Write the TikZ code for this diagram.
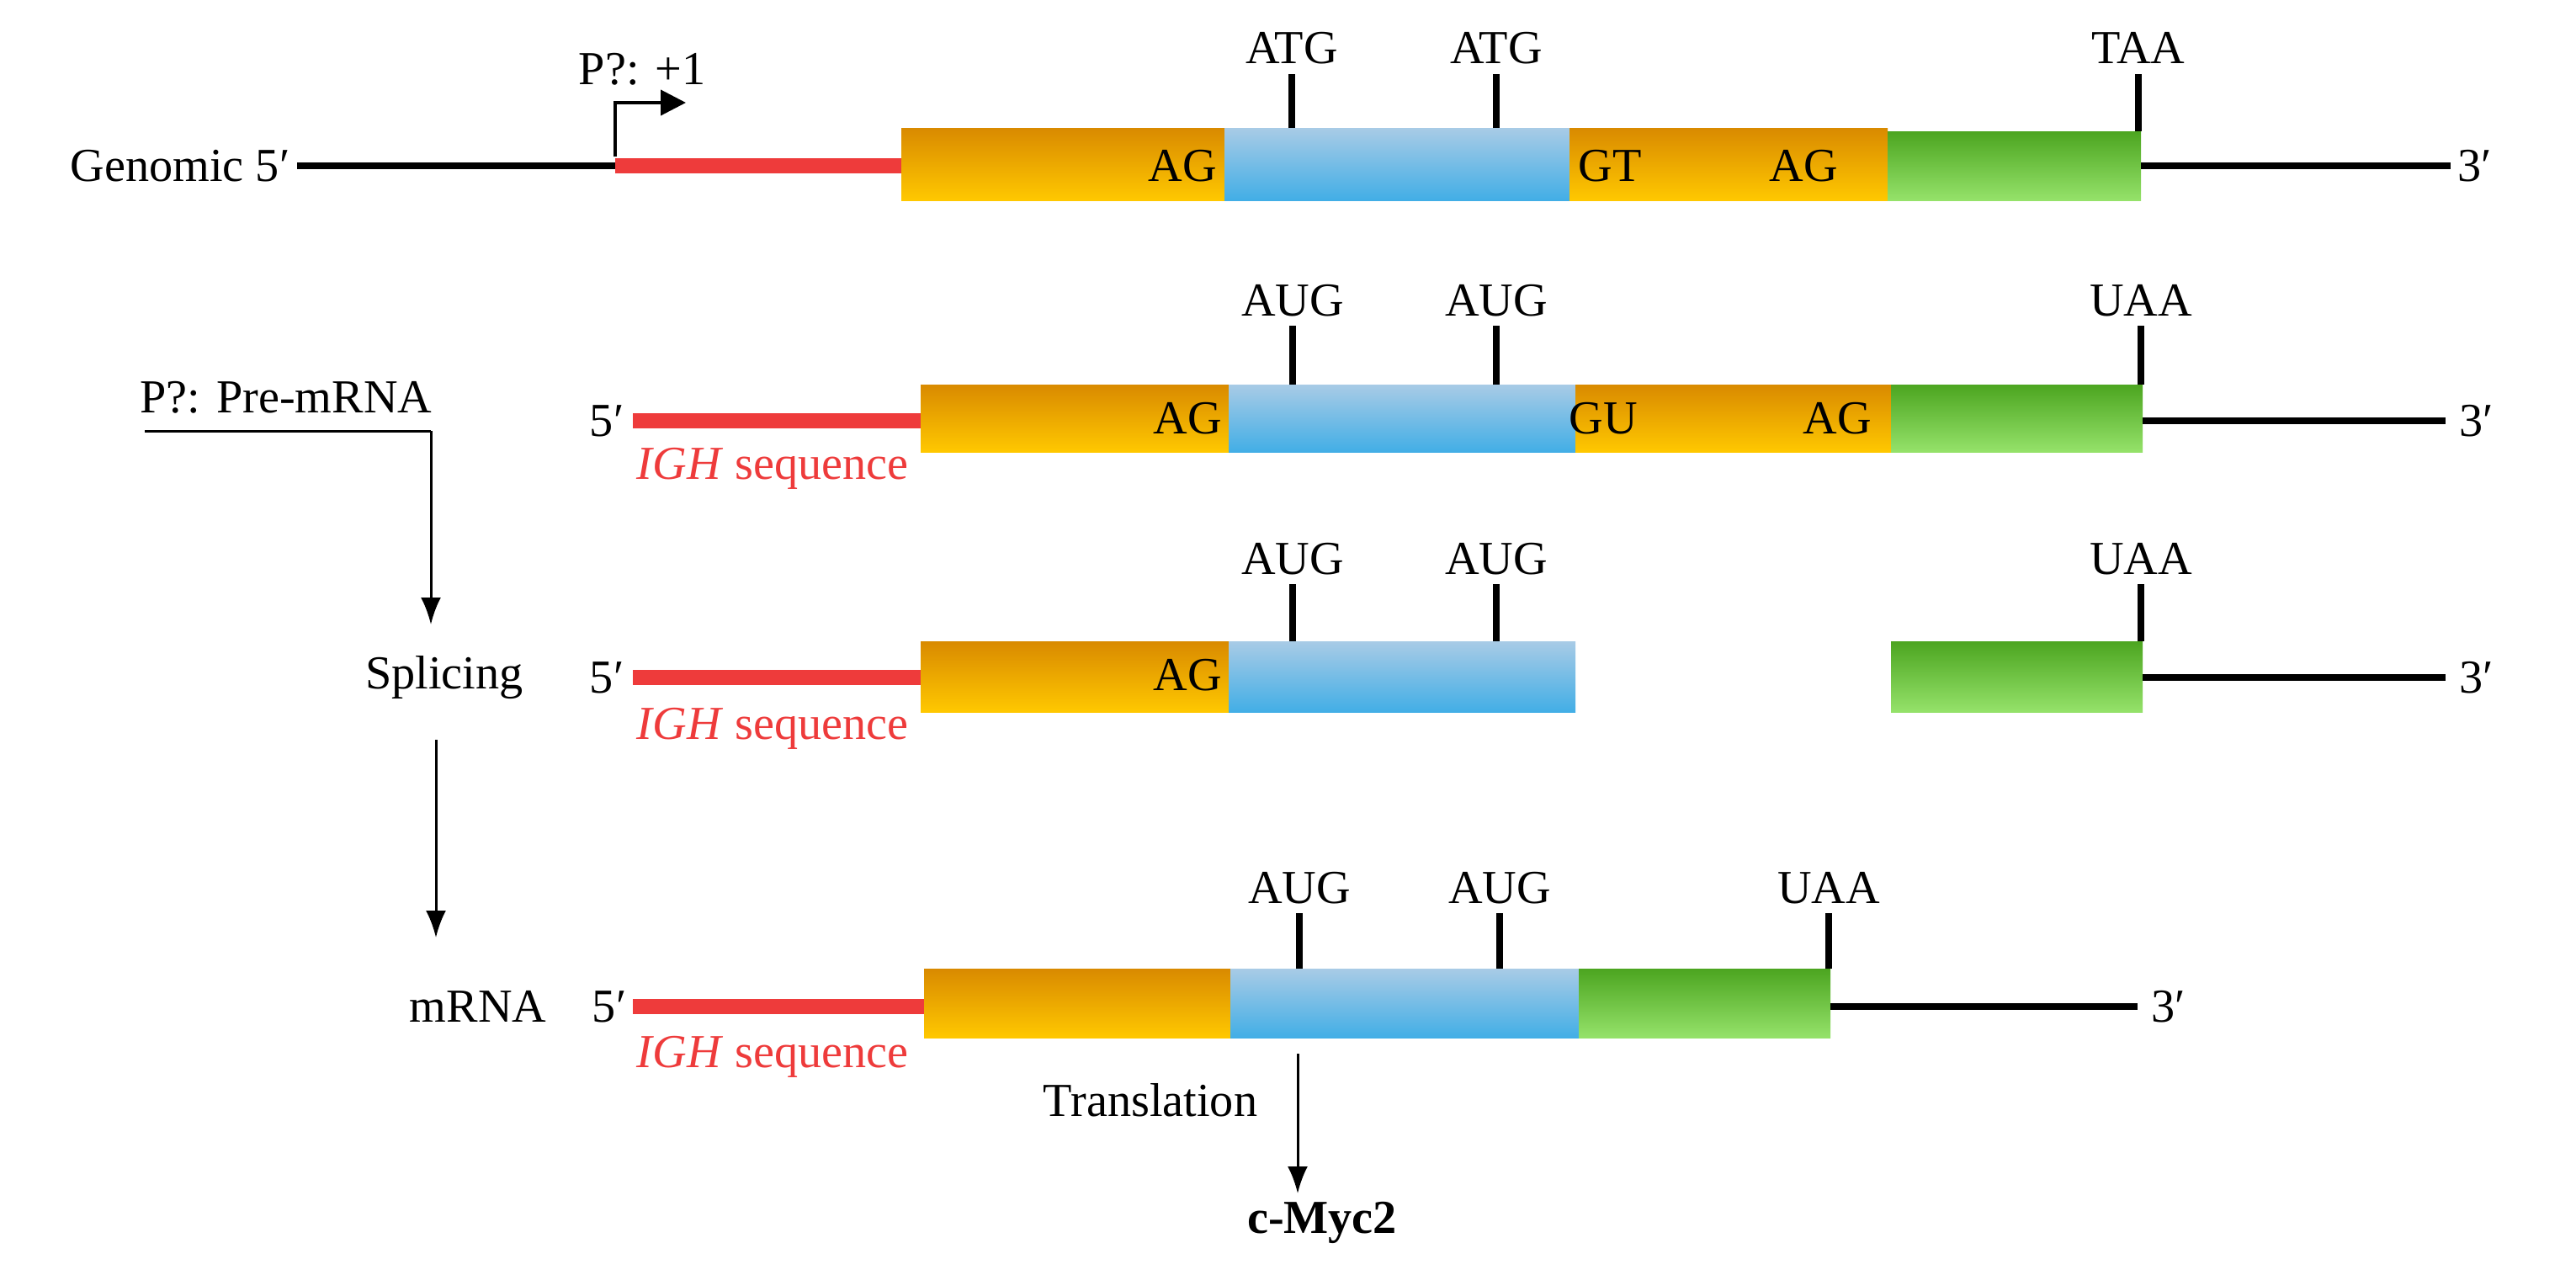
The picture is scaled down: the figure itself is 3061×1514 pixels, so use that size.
\documentclass[tikz,border=0pt]{standalone}
\usepackage{fontspec}
\setmainfont{Liberation Serif}
\usetikzlibrary{arrows.meta}
\definecolor{ored1}{HTML}{D98A00}\definecolor{ored2}{HTML}{FFC800}
\definecolor{blu1}{HTML}{A8CBE6}\definecolor{blu2}{HTML}{42AEE6}
\definecolor{grn1}{HTML}{4CA520}\definecolor{grn2}{HTML}{95E26A}
\definecolor{igh}{HTML}{EE3B3B}
\begin{document}
\begin{tikzpicture}[x=0.1mm,y=-0.1mm,
  txt/.style={font=\fontsize{16}{19}\selectfont,inner sep=0pt},
  orng/.style={top color=ored1,bottom color=ored2,draw=none},
  blue/.style={top color=blu1,bottom color=blu2,draw=none},
  grn/.style={top color=grn1,bottom color=grn2,draw=none},
  bl/.style={line width=0.85mm,black},
  rd/.style={line width=1.8mm,igh},
  tick/.style={line width=0.8mm,black},
  arr/.style={line width=0.3mm,-{Latex[length=3.2mm,width=2.4mm]}}]
\useasboundingbox (0,0) rectangle (3061,1514);
% ---------- Genomic ----------
\node[txt,anchor=east] (gen) at (345,197) {Genomic 5′};
\coordinate (g0) at (353,197);\coordinate (g1) at (731,197);
\draw[bl] (g0) -- (g1);
\draw[rd] (731,197) -- (1071,197);
\coordinate (pa) at (731,186);\coordinate (pb) at (731,122);\coordinate (pc) at (815,122);
\draw[line width=0.4mm,-{Triangle[length=3mm,width=3mm]}] (pa) -- (pb) -- (pc);
\node[txt] (p1) at (763,82) {P?: +1};
\fill[orng] (1071,152) rectangle (1455,238);
\fill[blue] (1455,152) rectangle (1865,238);
\fill[orng] (1865,152) rectangle (2243,238);
\fill[grn] (2243,156) rectangle (2544,238);
\draw[bl] (2544,197) -- (2912,197);
\node[txt,anchor=west] at (2920,197) {3′};
\node[txt] at (1405,197) {AG};
\node[txt] at (1913,197) {GT};
\node[txt] at (2143,197) {AG};
\draw[tick] (1535,152) -- (1535,88); \node[txt] at (1535,57) {ATG};
\draw[tick] (1778,152) -- (1778,88); \node[txt] at (1778,57) {ATG};
\draw[tick] (2541,156) -- (2541,88); \node[txt] at (2541,57) {TAA};
% ---------- Pre-mRNA ----------
\node[txt,anchor=east] at (742,500) {5′};
\draw[rd] (752,500) -- (1094,500);
\node[txt,igh] at (918,557) {\textit{IGH} sequence};
\fill[orng] (1094,457) rectangle (1460,537);
\fill[blue] (1460,457) rectangle (1872,537);
\fill[orng] (1872,457) rectangle (2247,537);
\fill[grn] (2247,457) rectangle (2546,537);
\draw[bl] (2546,500) -- (2906,500);
\node[txt,anchor=west] at (2922,500) {3′};
\node[txt] at (1411,497) {AG};
\node[txt] at (1905,497) {GU};
\node[txt] at (2183,497) {AG};
\draw[tick] (1536,457) -- (1536,387); \node[txt] at (1536,357) {AUG};
\draw[tick] (1778,457) -- (1778,387); \node[txt] at (1778,357) {AUG};
\draw[tick] (2544,457) -- (2544,387); \node[txt] at (2544,357) {UAA};
% ---------- Splicing ----------
\node[txt,anchor=east] at (742,805) {5′};
\draw[rd] (752,805) -- (1094,805);
\node[txt,igh] at (918,866) {\textit{IGH} sequence};
\fill[orng] (1094,762) rectangle (1460,846);
\fill[blue] (1460,762) rectangle (1872,846);
\fill[grn] (2247,762) rectangle (2546,846);
\draw[bl] (2546,805) -- (2906,805);
\node[txt,anchor=west] at (2922,805) {3′};
\node[txt] at (1411,802) {AG};
\draw[tick] (1536,762) -- (1536,694); \node[txt] at (1536,664) {AUG};
\draw[tick] (1778,762) -- (1778,694); \node[txt] at (1778,664) {AUG};
\draw[tick] (2544,762) -- (2544,694); \node[txt] at (2544,664) {UAA};
% ---------- mRNA ----------
\node[txt,anchor=east] at (745,1196) {5′};
\draw[rd] (752,1196) -- (1098,1196);
\node[txt,igh] at (918,1256) {\textit{IGH} sequence};
\fill[orng] (1098,1151) rectangle (1462,1233);
\fill[blue] (1462,1151) rectangle (1876,1233);
\fill[grn] (1876,1151) rectangle (2175,1233);
\draw[bl] (2175,1196) -- (2540,1196);
\node[txt,anchor=west] at (2556,1196) {3′};
\draw[tick] (1544,1151) -- (1544,1085); \node[txt] at (1544,1055) {AUG};
\draw[tick] (1782,1151) -- (1782,1085); \node[txt] at (1782,1055) {AUG};
\draw[tick] (2173,1151) -- (2173,1085); \node[txt] at (2173,1055) {UAA};
% ---------- left flow ----------
\node[txt] (pre) at (340,472) {P?: Pre-mRNA};
\node[txt] (spl) at (528,805) {Splicing};
\node[txt] (mrna) at (568,1196) {mRNA};
\coordinate (u0) at (172,512);\coordinate (u1) at (512,512);
\draw[line width=0.3mm] (u0) -- (u1);
\draw[arr] (u1) -- (512,742);
\draw[arr] (518,879) -- (518,1114);
\node[txt] (tr) at (1367,1307) {Translation};
\node[txt,font=\fontsize{16}{19}\selectfont\bfseries] (myc) at (1571,1453) {c-Myc2};
\coordinate (t0) at (1542,1252);\coordinate (t1) at (1542,1418);
\draw[arr] (t0) -- (t1);
\end{tikzpicture}
\end{document}
